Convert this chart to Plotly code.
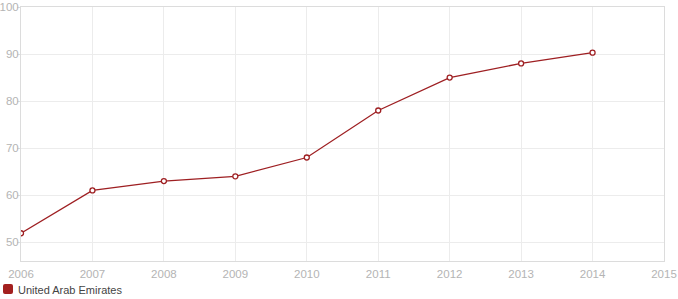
import plotly.graph_objects as go

years = [2006, 2007, 2008, 2009, 2010, 2011, 2012, 2013, 2014]
values = [51.9, 61.0, 63.0, 64.0, 68.0, 78.0, 85.0, 88.0, 90.3]
series_name = "United Arab Emirates"
x_ticks = list(range(2006, 2016))
y_ticks = [50, 60, 70, 80, 90, 100]

RED = "#9e1f22"
GRID = "#ececec"
AXIS = "#dcdcdc"
TICKFONT = dict(family="Liberation Sans, Arial, sans-serif", size=11.5, color="#b4b4b4")

fig = go.Figure()
fig.add_trace(go.Scatter(
    x=years, y=values, mode="lines+markers", name=series_name,
    line=dict(color=RED, width=1.3),
    marker=dict(symbol="circle", size=5, color="white", line=dict(color=RED, width=1.3)),
    showlegend=False, hoverinfo="x+y",
))

fig.update_layout(
    width=678, height=299,
    margin=dict(l=21, r=14, t=7, b=38),
    paper_bgcolor="white", plot_bgcolor="white",
    showlegend=False,
    xaxis=dict(range=[2006, 2015], tickvals=x_ticks, ticktext=[str(t) for t in x_ticks],
               showgrid=True, gridcolor=GRID, gridwidth=1,
               showline=True, linecolor=AXIS, linewidth=1, mirror=True,
               ticks="", tickfont=TICKFONT, zeroline=False, fixedrange=True,
               ticklabelstandoff=2, automargin=False),
    yaxis=dict(range=[46, 100], tickvals=y_ticks, ticktext=[str(t) for t in y_ticks],
               showgrid=True, gridcolor=GRID, gridwidth=1,
               showline=True, linecolor=AXIS, linewidth=1, mirror=True,
               ticks="outside", ticklen=3, tickcolor=AXIS, ticklabelstandoff=-4,
               tickfont=TICKFONT, zeroline=False, fixedrange=True,
               automargin=False),
)

# Legend drawn manually (rounded square swatch + label)
pw, ph = 643.0, 254.0
def px(x):
    return (x - 21) / pw
def py(y):
    return (261 - y) / ph
x0, x1, y0, y1, r = 3, 13, 284, 294, 2
path = (f"M {px(x0+r)},{py(y0)} L {px(x1-r)},{py(y0)} Q {px(x1)},{py(y0)} {px(x1)},{py(y0+r)} "
        f"L {px(x1)},{py(y1-r)} Q {px(x1)},{py(y1)} {px(x1-r)},{py(y1)} "
        f"L {px(x0+r)},{py(y1)} Q {px(x0)},{py(y1)} {px(x0)},{py(y1-r)} "
        f"L {px(x0)},{py(y0+r)} Q {px(x0)},{py(y0)} {px(x0+r)},{py(y0)} Z")
fig.add_shape(type="path", xref="paper", yref="paper", path=path,
              fillcolor="#a3201f", line=dict(width=0))
fig.add_annotation(xref="paper", yref="paper", x=px(16), y=py(289.5),
                   xanchor="left", yanchor="middle", showarrow=False,
                   text=series_name,
                   font=dict(family="Liberation Sans, Arial, sans-serif", size=11, color="#444444"))

fig.write_html("out.html")
